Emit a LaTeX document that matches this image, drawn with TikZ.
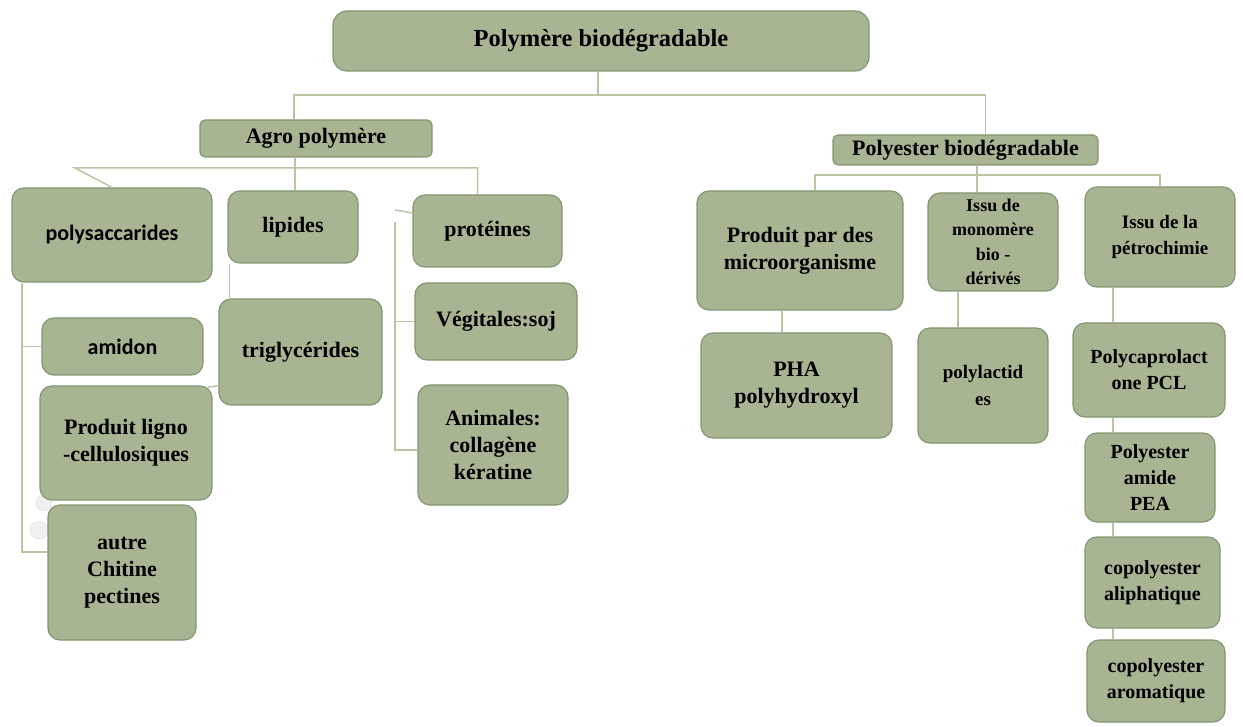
\documentclass[tikz,border=0pt]{standalone}
\usepackage{fontspec}
\setmainfont{Liberation Serif}
\newfontfamily\calib{Carlito}
\usepackage{tikz}
\usetikzlibrary{calc}
\definecolor{boxfill}{RGB}{167,181,147}
\definecolor{boxline}{RGB}{132,149,114}
\definecolor{linkcol}{RGB}{184,198,166}

\begin{document}
\begin{tikzpicture}[x=1pt, y=-1pt,
    box/.style={draw=boxline, fill=boxfill, rounded corners=12pt, line width=1.2pt,
      align=center, inner sep=0pt, font=\bfseries\fontsize{22}{27}\selectfont},
    smallbox/.style={box, font=\bfseries\fontsize{20}{26}\selectfont},
    link/.style={draw=linkcol, line width=1.5pt}]
  \useasboundingbox (0,0) rectangle (1243,727);
  % Faint bubbles behind the left column
  \fill[gray!12, draw=gray!25] (44,503) circle (8);
  \fill[gray!12, draw=gray!25] (39,530) circle (9);
  % Top level
  \node[box, minimum width=536, minimum height=60, rounded corners=14pt,
    font=\bfseries\fontsize{24.5}{29}\selectfont] (root) at (601,41) {Polymère biodégradable};
  \node[box, minimum width=232, minimum height=37, rounded corners=5pt] (agro) at (316,138.5) {Agro polymère};
  \node[box, minimum width=265, minimum height=30, rounded corners=5pt] (polyest) at (965.5,150) {Polyester biodégradable};
  % Agro polymere branch
  \node[box, minimum width=200, minimum height=94, font=\calib\bfseries\fontsize{22}{27}\selectfont] (polysac) at (112,235) {polysaccarides};
  \node[box, minimum width=130, minimum height=72] (lipides) at (293,227) {lipides};
  \node[box, minimum width=149, minimum height=72] (proteines) at (487.5,231) {protéines};
  \node[box, minimum width=163, minimum height=106] (triglyc) at (300.5,352) {triglycérides};
  \node[box, minimum width=161, minimum height=57, font=\calib\bfseries\fontsize{22}{27}\selectfont] (amidon) at (122.5,346.5) {amidon};
  \node[box, minimum width=172, minimum height=114] (ligno) at (126,443) {Produit ligno\\-cellulosiques};
  \node[box, minimum width=148, minimum height=135] (autre) at (122,572.5) {autre\\Chitine\\pectines};
  \node[box, minimum width=162, minimum height=77] (vegit) at (496,321.5) {Végitales:soj};
  \node[box, minimum width=150, minimum height=120] (animales) at (493,445) {Animales:\\collagène\\kératine};
  % Polyester branch
  \node[box, minimum width=206, minimum height=119] (microorg) at (800,250.5) {Produit par des\\microorganisme};
  \node[box, minimum width=130, minimum height=98, font=\bfseries\fontsize{18}{24.5}\selectfont] (monomere) at (993,242) {Issu de\\monomère\\bio -\\dérivés};
  \node[box, minimum width=150, minimum height=100, font=\bfseries\fontsize{19}{26}\selectfont] (petro) at (1160,237) {Issu de la\\pétrochimie};
  \node[box, minimum width=191, minimum height=105] (pha) at (796.5,385.5) {PHA\\polyhydroxyl};
  \node[box, minimum width=130, minimum height=115, font=\bfseries\fontsize{19}{27}\selectfont] (polylact) at (983,385.5) {polylactid\\es};
  \node[smallbox, minimum width=152, minimum height=94] (pcl) at (1149,370) {Polycaprolact\\one PCL};
  \node[smallbox, minimum width=130, minimum height=89] (pea) at (1150,477.5) {Polyester\\amide\\PEA};
  \node[smallbox, minimum width=135, minimum height=91] (aliph) at (1152.5,582.5) {copolyester\\aliphatique};
  \node[smallbox, minimum width=138, minimum height=82] (arom) at (1156,681) {copolyester\\aromatique};
  % Connectors, top level
  \coordinate (busT) at (598,95);
  \draw[link] (root.south -| busT) -- (busT);
  \draw[link] ([xshift=-22pt]agro.north) |- (busT) -| ([xshift=20pt]polyest.north);
  % Connectors, agro polymere
  \coordinate (busA) at (295,168);
  \coordinate (busAl) at (75,168);
  \draw[link] (busA |- agro.south) -- (busA);
  \draw[link] (polysac.north) -- (busAl) -- ([xshift=-10pt]busAl -| proteines.north) -- ([xshift=-10pt]proteines.north);
  \draw[link] (busA) -- (busA |- lipides.north);
  \draw[link] ([xshift=2pt]lipides.south west) -- ([xshift=2pt]lipides.south west |- triglyc.north);
  \draw[link] ([xshift=-5pt,yshift=-2pt]ligno.north east) -- ([yshift=20pt]triglyc.south west);
  \coordinate (bkP) at (22,552);
  \draw[link] (polysac.south -| bkP) -- (bkP) -- (bkP -| autre.west);
  \draw[link] (amidon.west) -- (amidon.west -| bkP);
  \coordinate (bkV) at (395,450);
  \coordinate (bkVtop) at (395,222);
  \coordinate (bkVtip) at (395,210);
  \draw[link] (bkVtop) -- (bkV) -- (bkV -| animales.west);
  \draw[link] (vegit.west) -- (vegit.west -| bkV);
  \draw[link] ([yshift=18pt]proteines.west) -- (bkVtip);
  % Connectors, polyester
  \coordinate (busP) at (977,175);
  \draw[link] (busP |- polyest.south) -- (busP);
  \draw[link] ([xshift=15pt]microorg.north) |- (busP) -| (petro.north);
  \draw[link] (busP) -- (busP |- monomere.north);
  \draw[link] ([xshift=-18pt]microorg.south) -- ([xshift=-18pt]microorg.south |- pha.north);
  \draw[link] ([xshift=-35pt]monomere.south) -- ([xshift=-35pt]monomere.south |- polylact.north);
  \coordinate (chR) at (1113,300);
  \foreach \a/\b in {petro/pcl, pcl/pea, pea/aliph, aliph/arom}
    \draw[link] (\a.south -| chR) -- (\b.north -| chR);
\end{tikzpicture}
\end{document}
